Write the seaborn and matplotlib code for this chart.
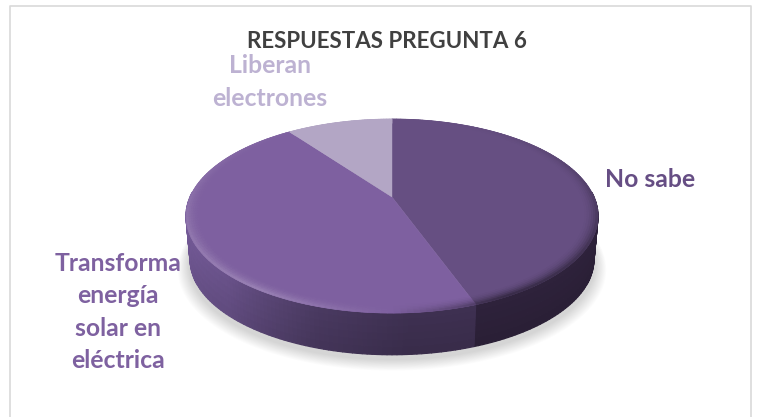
import numpy as np
import matplotlib
matplotlib.use("Agg")
import matplotlib.pyplot as plt
from matplotlib.collections import PolyCollection
from matplotlib.colors import to_rgb
import seaborn as sns

categories = ["No sabe", "Transforma\nenergía\nsolar en\neléctrica", "Liberan\nelectrones"]
shares = [44.5, 45.5, 10]
face_colors = ["#664f82", "#7e60a0", "#b3a6c5"]
label_colors = ["#664e84", "#7e61a0", "#bdb2d2"]
title_text = "RESPUESTAS PREGUNTA 6"

sns.set_theme(style="white")
plt.rcParams["font.family"] = ["Lato", "DejaVu Sans"]

# Pixel-based canvas; the disc is drawn under a small perspective warp
fig = plt.figure(figsize=(7.62, 4.17), dpi=100, facecolor="white")
ax = fig.add_axes([0, 0, 1, 1])
ax.set_xlim(0, 762)
ax.set_ylim(417, 0)
ax.axis("off")

CX, CY = 392.0, 197.0
A, B, K = 202.0, 93.3, 0.196
DEPTH = 44.0


def project(theta, r=1.0, drop=0.0, shrink=1.0):
    """Map a clockwise-from-top disc angle to screen pixels."""
    u = r * np.sin(theta)
    v = r * np.cos(theta)
    w = 1 + K * v
    return CX + shrink * A * u / w, CY - shrink * B * v / w + drop


def ring(r=1.0, drop=0.0, shrink=1.0, n=240):
    t = np.linspace(0, 2 * np.pi, n)
    return np.column_stack(project(t, r, drop, shrink))


# Slice boundaries come straight from the shares
fractions = np.array(shares, dtype=float) / sum(shares)
edges = np.concatenate([[0], np.cumsum(fractions)]) * 2 * np.pi

# Soft ground shadow
for i in range(14):
    grow = 1.04 - i * 0.004
    ax.fill(*ring(1.0, DEPTH + 9 - i * 0.35, grow).T, color="#000000",
            alpha=0.011, lw=0, zorder=1)

# Rim of the disc: shaded quads, darker toward the front right
polys, cols = [], []
thetas = np.linspace(np.pi / 2 - 0.05, 3 * np.pi / 2 + 0.05, 161)
levels = np.linspace(0, 1, 7)
rim_dark = np.array(to_rgb("#2a1f36"))
rim_lit = np.array(to_rgb("#7a5fa0"))

for i in range(len(thetas) - 1):
    mid = 0.5 * (thetas[i] + thetas[i + 1])
    idx = min(np.searchsorted(edges, mid, side="right") - 1, 2)
    for j in range(len(levels) - 1):
        t0, t1 = levels[j], levels[j + 1]
        s0, s1 = 1 - 0.02 * t0, 1 - 0.02 * t1
        x00, y00 = project(thetas[i], 1.0, DEPTH * t0, s0)
        x10, y10 = project(thetas[i + 1], 1.0, DEPTH * t0, s0)
        x11, y11 = project(thetas[i + 1], 1.0, DEPTH * t1, s1)
        x01, y01 = project(thetas[i], 1.0, DEPTH * t1, s1)
        polys.append([(x00, y00), (x10, y10), (x11, y11), (x01, y01)])
        tm = 0.5 * (t0 + t1)
        if idx == 0:
            c = rim_dark * (1.1 - 0.1 * tm)
        else:
            far = np.interp(mid, [np.pi * 0.98, np.pi * 1.1, np.pi * 1.25, np.pi * 1.5],
                            [0.5, 0.6, 0.85, 1.0])
            c = rim_lit * far * (1.02 - 0.1 * tm)
        cols.append(np.clip(c, 0, 1))
ax.add_collection(PolyCollection(polys, facecolors=cols, edgecolors=cols, linewidths=0.9, zorder=2))

# Top faces
for k in range(3):
    t = np.linspace(edges[k], edges[k + 1], 120)
    x, y = project(t)
    ax.fill(np.r_[CX, x], np.r_[CY, y], color=face_colors[k], lw=0.3, zorder=3)

# Bevel along the rim: a lit band at the front left, a dark fade on the right
for k in range(3):
    base = np.array(to_rgb(face_colors[k]))
    bev_polys, bev_cols = [], []
    t = np.linspace(edges[k], edges[k + 1], int(200 * fractions[k]) + 20)
    radii = np.linspace(0.93, 1.0, 8)
    for i in range(len(t) - 1):
        mid = 0.5 * (t[i] + t[i + 1])
        front = 0.5 * (1 - np.cos(mid))            # 1 at the front edge
        side = np.sin(mid)                         # +1 right, -1 left
        for j in range(len(radii) - 1):
            r0, r1 = radii[j], radii[j + 1]
            q = (j + 0.5) / (len(radii) - 1)
            xa, ya = project(t[i], r0)
            xb, yb = project(t[i + 1], r0)
            xc, yc = project(t[i + 1], r1)
            xd, yd = project(t[i], r1)
            bev_polys.append([(xa, ya), (xb, yb), (xc, yc), (xd, yd)])
            strength = front ** 1.2 * q ** 2
            if side > 0:
                c = base * (1 - 0.55 * strength * min(1, side * 2.2))
            else:
                c = base + (1 - base) * 0.26 * strength * min(1, -side * 1.8)
            bev_cols.append(np.clip(c, 0, 1))
    ax.add_collection(PolyCollection(bev_polys, facecolors=bev_cols, edgecolors=bev_cols,
                                     linewidths=0.5, zorder=4))

# Chart border
ax.plot([10, 10, 751, 751], [417, 6, 6, 417], color="#d9d9d9", lw=1.2, zorder=0)

ax.text(387, 41, title_text, ha="center", va="center", fontsize=16.1,
        fontweight="bold", color="#404040", zorder=6)

# Data labels with a shared line pitch
label_xy = [(650, 179), (118, 312), (270, 82)]
for name, color, (lx, ly) in zip(categories, label_colors, label_xy):
    ax.text(lx, ly, name, ha="center", va="center", fontsize=17.8, fontweight="bold",
            color=color, linespacing=1.48, multialignment="center", zorder=6)

fig.savefig("out.png", dpi=100, facecolor="white")
